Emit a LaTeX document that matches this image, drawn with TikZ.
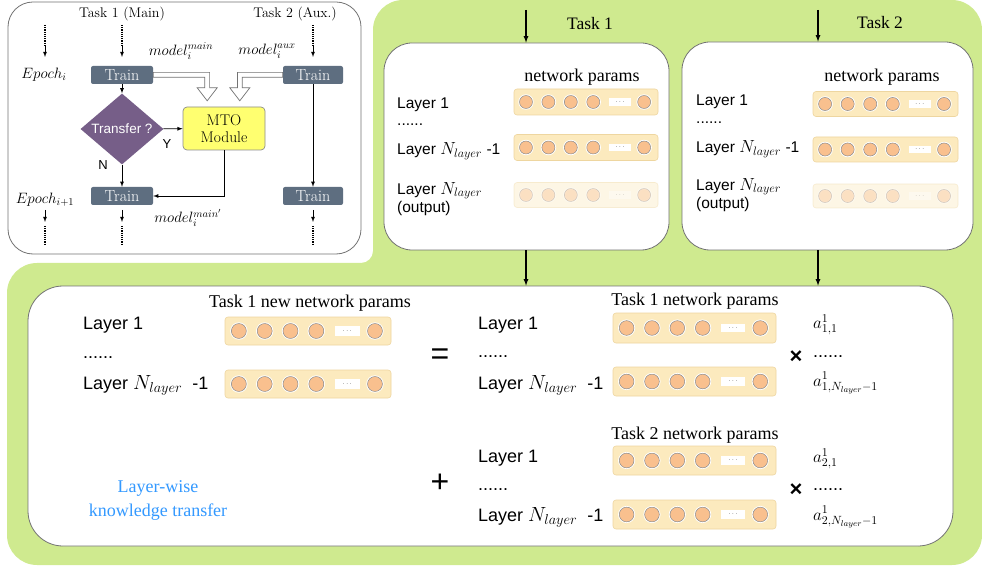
\RequirePackage{fix-cm}
\documentclass[tikz,border=0pt]{standalone}
\usepackage{fontspec}
\setsansfont{Liberation Sans}
\newfontfamily\timesfont{Liberation Serif}
\usepackage{tikz}
\usetikzlibrary{calc}
\usetikzlibrary{arrows, shapes}
\usetikzlibrary{shapes.geometric}
\usetikzlibrary{positioning}

\definecolor{greenbg}{RGB}{207,234,143}
\definecolor{traingrey}{RGB}{94,110,128}
\definecolor{decpurple}{RGB}{118,94,136}
\definecolor{mtoyellow}{RGB}{255,255,112}
\definecolor{barfill}{RGB}{252,234,190}
\definecolor{barline}{RGB}{238,214,160}
\definecolor{paramfill}{RGB}{249,192,142}
\definecolor{transferblue}{RGB}{51,153,255}

% Layer count, set a little larger than the label text
\newcommand{\nlayer}[1]{{\fontsize{#1}{#1}\selectfont$N_{layer}$}}

% A row of parameters: [extra] {name} {width} {height} {centre}
\newcommand{\parambar}[5][]{%
	\node[param bar, minimum width=#3, minimum height=#4, #1] (#2) at #5 {};
	\foreach \k/\p in {1/0.085, 2/0.240, 3/0.395, 4/0.550}
		\node[param, minimum size=0.09*#3, #1] (#2-\k) at ($(#2.west)!\p!(#2.east)$) {};
	\node[param dots, minimum width=0.15*#3, minimum height=0.055*#3, #1] (#2-d) at ($(#2.west)!0.735!(#2.east)$) {$\cdots$};
	\node[param, minimum size=0.09*#3, #1] (#2-n) at ($(#2.west)!0.902!(#2.east)$) {};
}

\begin{document}
\begin{tikzpicture}[
		x=1pt,
		y=-1pt,
		>=latex
		]
		\tikzstyle{panel}=[
			rectangle,
			draw=black!55,
			line width=0.8pt,
			fill=white,
			inner sep=0pt
		]
		\tikzstyle{train}=[
			rectangle,
			rounded corners=2pt,
			fill=traingrey,
			text=white,
			minimum width=62pt,
			minimum height=18pt,
			inner sep=0pt,
			font=\fontsize{16}{16}\selectfont
		]
		\tikzstyle{decision}=[
			diamond,
			fill=decpurple,
			text=white,
			minimum width=83pt,
			minimum height=48pt,
			inner sep=0pt,
			font=\sffamily\fontsize{13.5}{13.5}\selectfont
		]
		\tikzstyle{module}=[
			rectangle,
			rounded corners=4pt,
			fill=mtoyellow,
			draw=black!45,
			line width=0.7pt,
			minimum width=82pt,
			minimum height=43pt,
			align=center,
			font=\fontsize{15.5}{17}\selectfont
		]
		\tikzstyle{flow}=[->, line width=0.8pt]
		\tikzstyle{feed}=[->, line width=1.2pt]
		\tikzstyle{dotted stem}=[densely dotted, line width=1.2pt]
		\tikzstyle{hollow}=[draw=black!55, fill=white, line width=0.7pt]
		\tikzstyle{param bar}=[
			rectangle,
			rounded corners=3pt,
			fill=barfill,
			draw=barline,
			line width=0.6pt
		]
		\tikzstyle{param}=[
			circle,
			fill=paramfill,
			draw=black!45,
			line width=0.5pt,
			inner sep=0pt,
			preaction={draw=white, line width=2.4pt}
		]
		\tikzstyle{param dots}=[rectangle, fill=white, inner sep=0pt, font=\fontsize{6}{6}\selectfont]
		\tikzstyle{small layer}=[anchor=west, inner sep=0pt, align=left, font=\sffamily\fontsize{15.5}{18}\selectfont]
		\tikzstyle{big layer}=[anchor=west, inner sep=0pt, font=\sffamily\fontsize{18}{20}\selectfont]
		\tikzstyle{serif title}=[inner sep=0pt, font=\timesfont\fontsize{18}{20}\selectfont]
		\tikzstyle{flow text}=[inner sep=0pt, font=\fontsize{15}{15}\selectfont]
		\tikzstyle{weight}=[anchor=west, inner sep=0pt, font=\fontsize{17}{17}\selectfont]

		\useasboundingbox (0,0) rectangle (982,569);

		% Green backdrop behind the layer panels
		\fill[greenbg, rounded corners=30pt] (600,0) -- (982,0) -- (982,565) -- (7,565) -- (7,263)
			[rounded corners=12pt] -- (373,263) [rounded corners=30pt] -- (373,0) -- cycle;

		% Training flow with the MTO module
		\node[panel, rounded corners=25pt, minimum width=353pt, minimum height=252pt] (flowpanel) at (184.5,128) {};
		\node[flow text, font=\fontsize{14}{14}\selectfont] (task1) at (122,14) {Task 1 (Main)};
		\node[flow text, font=\fontsize{14}{14}\selectfont] (task2) at (295,14) {Task 2 (Aux.)};
		\foreach \col/\x in {ep/45, ma/122, ax/313} {
			\coordinate (\col-a) at (\x,25);
			\coordinate (\col-b) at (\x,45);
			\coordinate (\col-c) at (\x,57);
			\coordinate (\col-d) at (\x,210);
			\coordinate (\col-e) at (\x,222);
			\coordinate (\col-f) at (\x,226);
			\coordinate (\col-g) at (\x,245);
			\draw[dotted stem] (\col-a) -- (\col-b);
			\draw[flow] (\col-b) -- (\col-c);
			\draw[flow] (\col-d) -- (\col-e);
			\draw[dotted stem] (\col-f) -- (\col-g);
		}
		\node[flow text] (epoch) at (44,75) {$Epoch_i$};
		\node[flow text] (epochnext) at (45,200) {$Epoch_{i+1}$};
		\node[train] (T1a) at (122,75) {Train};
		\node[train, minimum width=60pt] (T2a) at (313,75) {Train};
		\node[decision] (transfer) at (122,129) {Transfer ?};
		\node[module] (mto) at (224,128.5) {MTO\\Module};
		\node[train] (T1b) at (122,196) {Train};
		\node[train, minimum width=60pt] (T2b) at (313,196) {Train};
		\node[flow text] (mmain) at (181,51) {$model_i^{main}$};
		\node[flow text] (maux) at (267,51) {$model_i^{aux}$};
		\node[flow text] (mnew) at (188,218) {$model_i^{main'}$};
		\node[inner sep=0pt, font=\sffamily\fontsize{13}{13}\selectfont] (yes) at (167,144) {Y};
		\node[inner sep=0pt, font=\sffamily\fontsize{13}{13}\selectfont] (no) at (103,165) {N};
		\draw[flow] (T1a) -- (transfer);
		\draw[flow] (transfer) -- (mto);
		\draw[flow] (transfer) -- (T1b);
		\draw[flow] (mto.south) |- (T1b.east);
		\draw[flow] (T2a) -- (T2b);
		% Models handed to the MTO module: hollow arrows as outlines
		\draw[hollow] (T1a.north east) ++(0,6.6) -- ++(56.4,0) -- ++(0,15.4) -- ++(7.6,0) -- ++(-10,13) -- ++(-10,-13)
			-- ++(7.6,0) -- ++(0,-10.6) -- ++(-51.6,0) -- cycle;
		\draw[hollow] (T2a.north west) ++(0,6.6) -- ++(-45.4,0) -- ++(0,15.4) -- ++(-7.6,0) -- ++(10,13) -- ++(10,-13)
			-- ++(-7.6,0) -- ++(0,-10.6) -- ++(40.6,0) -- cycle;

		% Network params of both tasks
		\node[panel, rounded corners=28pt, minimum width=285pt, minimum height=207pt] (net1) at (526.5,146.5) {};
		\node[panel, rounded corners=28pt, minimum width=291pt, minimum height=208pt] (net2) at (827.5,146) {};
		\coordinate (in1) at (526,10);
		\coordinate (in2) at (818,10);
		\node[serif title, font=\timesfont\fontsize{17.5}{20}\selectfont] (label1) at (590,24) {Task 1};
		\node[serif title, font=\timesfont\fontsize{17.5}{20}\selectfont] (label2) at (880,23) {Task 2};
		\draw[feed] (in1) -- (in1 |- net1.north);
		\draw[feed] (in2) -- (in2 |- net2.north);

		\node[serif title] (np1) at (582,77) {network params};
		\node[small layer] (l11) at (397,105) {Layer 1};
		\node[small layer] (l12) at (397,125) {......};
		\node[small layer] (l13) at (397,151) {Layer \nlayer{17.5} -1};
		\node[small layer] (l14) at (397,199) {Layer \nlayer{17.5}\\(output)};
		\parambar{b11}{144}{26}{(586,102)}
		\parambar{b12}{144}{26}{(586,147.5)}
		\parambar[opacity=0.4]{b13}{144}{25}{(586,195)}

		\node[serif title] (np2) at (882,77) {network params};
		\node[small layer] (l21) at (696,102) {Layer 1};
		\node[small layer] (l22) at (696,123) {......};
		\node[small layer] (l23) at (696,149) {Layer \nlayer{17.5} -1};
		\node[small layer] (l24) at (696,195) {Layer \nlayer{17.5}\\(output)};
		\parambar{b21}{145}{25}{(885.5,104)}
		\parambar{b22}{145}{25}{(885.5,149.5)}
		\parambar[opacity=0.4]{b23}{145}{24}{(885.5,196)}

		% Layer-wise knowledge transfer
		\node[panel, rounded corners=35pt, minimum width=925pt, minimum height=260pt] (merge) at (490.5,416) {};
		\draw[feed] (net1.south -| in1) -- (in1 |- merge.north);
		\draw[feed] (net2.south -| in2) -- (in2 |- merge.north);

		\node[serif title] (newtitle) at (310,303) {Task 1 new network params};
		\node[big layer] (n1) at (83,325) {Layer 1};
		\node[big layer] (n2) at (83,358) {......};
		\node[big layer] (n3) at (83,385) {Layer \nlayer{20.5} \ -1};
		\parambar{nb1}{166}{28}{(308,331)}
		\parambar{nb2}{166}{28}{(308,384)}
		\node[inner sep=0pt, font=\sffamily\fontsize{32}{32}\selectfont] (equals) at (440,357) {=};

		\node[serif title] (oldtitle) at (695,301) {Task 1 network params};
		\node[big layer] (o1) at (478,325) {Layer 1};
		\node[big layer] (o2) at (478,357) {......};
		\node[big layer] (o3) at (478,385) {Layer \nlayer{20.5} \ -1};
		\parambar{ob1}{163}{30}{(694.5,328)}
		\parambar{ob2}{163}{29}{(694.5,381.5)}
		\node[inner sep=0pt, font=\sffamily\bfseries\fontsize{22}{22}\selectfont] (times1) at (796,357) {×};
		\node[big layer] (w12) at (813,357) {......};
		\node[weight] (w11) at (813,325) {$a^{1}_{1,1}$};
		\node[weight] (w13) at (813,383) {$a^{1}_{1,N_{layer}-1}$};

		\node[serif title] (auxtitle) at (695,435) {Task 2 network params};
		\node[big layer] (x1) at (478,458) {Layer 1};
		\node[big layer] (x2) at (478,490) {......};
		\node[big layer] (x3) at (478,517) {Layer \nlayer{20.5} \ -1};
		\parambar{xb1}{163}{29}{(694.5,460.5)}
		\parambar{xb2}{163}{29}{(694.5,514.5)}
		\node[inner sep=0pt, font=\sffamily\fontsize{32}{32}\selectfont] (plus) at (440,483) {+};
		\node[inner sep=0pt, font=\sffamily\bfseries\fontsize{22}{22}\selectfont] (times2) at (796,490) {×};
		\node[big layer] (w22) at (813,490) {......};
		\node[weight] (w21) at (813,459) {$a^{1}_{2,1}$};
		\node[weight] (w23) at (813,517) {$a^{1}_{2,N_{layer}-1}$};

		\node[serif title, text=transferblue, align=center, font=\timesfont\fontsize{18}{24}\selectfont] (lwkt) at (158,500) {Layer-wise\\knowledge transfer};
	\end{tikzpicture}
\end{document}
